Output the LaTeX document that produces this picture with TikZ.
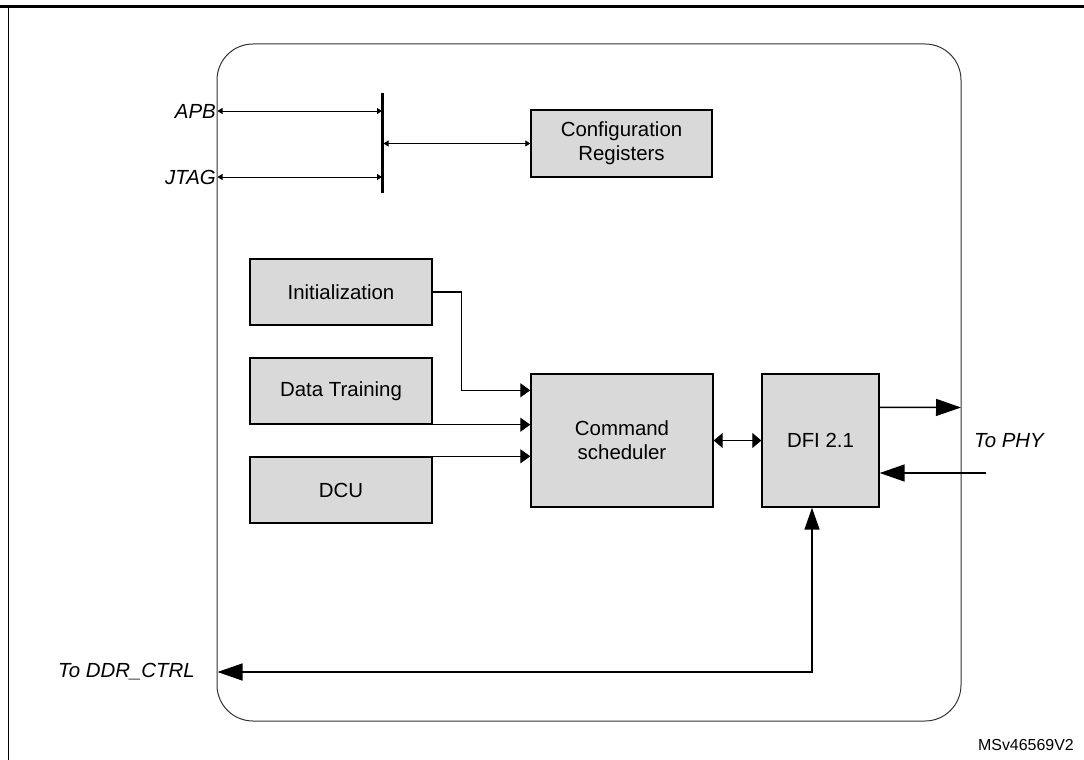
\documentclass[tikz,border=0pt]{standalone}
\usepackage{fontspec}
\setmainfont{Liberation Sans}
\usetikzlibrary{arrows.meta,calc}
\definecolor{boxgray}{HTML}{D9D9D9}
\definecolor{edgegray}{HTML}{333333}
\tikzset{
  blk/.style={draw=black, line width=1.4bp, fill=boxgray, inner sep=0pt, align=center,
    font=\fontsize{20.5}{24}\selectfont},
  lbl/.style={inner sep=0pt, font=\fontsize{20.5}{24}\selectfont\itshape},
  thinarr/.style={line width=0.8bp, {Triangle[length=5bp,width=6bp]}-{Triangle[length=5bp,width=6bp]}},
  medarr/.style={line width=1.3bp, -{Triangle[length=10bp,width=14bp]}},
  meddbl/.style={line width=1.3bp, {Triangle[length=9bp,width=15bp]}-{Triangle[length=9bp,width=15bp]}},
  bigarr/.style={line width=1.5bp, -{Triangle[length=25bp,width=17bp]}},
  bigdbl/.style={line width=1.5bp, {Triangle[length=22bp,width=15bp]}-{Triangle[length=25bp,width=17bp]}},
}
\begin{document}
\begin{tikzpicture}[x=1bp,y=-1bp]
\useasboundingbox (0,0) rectangle (1084,760);
% outer frame
\draw[line width=3bp] (0,6.3) -- (1084,6.3);
\draw[line width=1bp] (8,6.3) -- (8,760);
% enclosure
\draw[edgegray, line width=1bp, rounded corners=36bp] (217,44) rectangle (961,721);
% bus bar
\coordinate (bt) at (382,93);
\coordinate (bb) at (382,193);
\draw[line width=3bp] (bt) -- (bb);
% boxes
\node[blk, minimum width=181bp, minimum height=67bp] (cfg) at (621.5,143.5) {Configuration\\Registers};
\node[blk, minimum width=182bp, minimum height=66bp] (init) at (341,292) {Initialization};
\node[blk, minimum width=182bp, minimum height=66bp] (data) at (341,391) {Data Training};
\node[blk, minimum width=182bp, minimum height=66bp] (dcu) at (341,490) {DCU};
\node[blk, minimum width=182bp, minimum height=133bp] (cmd) at (622,440.5) {Command\\scheduler};
\node[blk, minimum width=117bp, minimum height=133bp] (dfi) at (820.5,440.5) {DFI 2.1};
% labels
\node[lbl, anchor=east] (apb) at (216,111) {APB};
\node[lbl, anchor=east] (jtag) at (216,177) {JTAG};
\node[lbl, anchor=west] (phy) at (974,441) {To PHY};
\node[lbl, anchor=east] (ddrl) at (195,672) {To DDR\_CTRL};
\node[inner sep=0pt, anchor=east, font=\fontsize{16}{19}\selectfont] (ref) at (1074,745) {MSv46569V2};
% bus connectors
\coordinate (apbL) at (217.5,111);
\coordinate (jtagL) at (217.5,177);
\draw[thinarr] (apbL) -- (apbL -| bt);
\draw[thinarr] (jtagL) -- (jtagL -| bt);
\coordinate (busout) at (383.5,143.5);
\draw[thinarr] (busout) -- (cfg.west);
% inputs to scheduler
\coordinate (initin) at ($(cmd.north west)+(0,17)$);
\draw[medarr] (init.east) -- ++(29,0) |- (initin);
\draw[medarr] (data.south east) -- (data.south east -| cmd.west);
\draw[medarr] (dcu.north east) -- (dcu.north east -| cmd.west);
\draw[meddbl] (cmd.east) -- (dfi.west);
% PHY
\coordinate (dfiout) at ($(dfi.north east)+(0,34)$);
\coordinate (phyout) at (961,407.5);
\draw[bigarr] (dfiout) -- (phyout);
\coordinate (phyin) at (986,473);
\draw[bigarr] (phyin) -- (phyin -| dfi.east);
% DDR_CTRL
\coordinate (dfib) at ($(dfi.south)+(-8.5,0)$);
\coordinate (ddr) at (217.5,672);
\draw[bigdbl] (dfib) -- (dfib |- ddr) -- (ddr);
\end{tikzpicture}
\end{document}
